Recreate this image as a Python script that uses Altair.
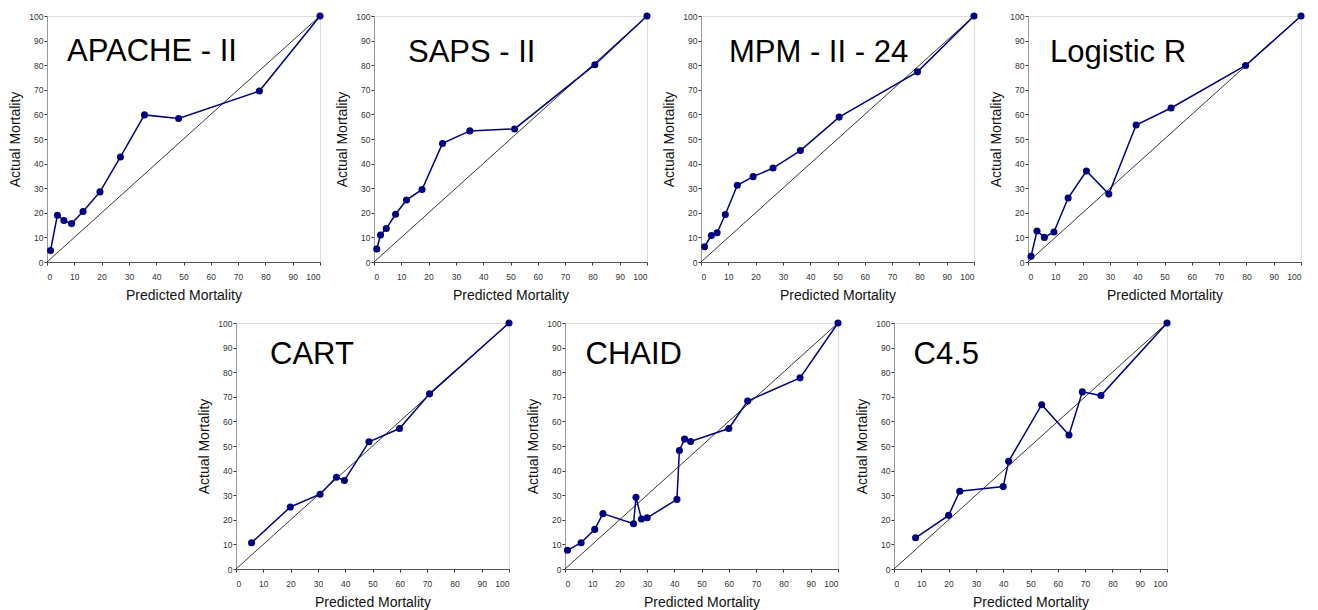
import altair as alt
import pandas as pd

models = ["APACHE - II", "SAPS - II", "MPM - II - 24", "Logistic R", "CART", "CHAID", "C4.5"]

apache_pred = [1.3, 3.8, 6.2, 9.0, 13.2, 19.4, 26.9, 35.7, 48.2, 77.8, 100]
apache_act = [4.7, 19.0, 16.9, 15.6, 20.5, 28.5, 42.7, 59.8, 58.3, 69.5, 100]

saps_pred = [1.0, 2.4, 4.5, 7.9, 11.9, 17.6, 25.1, 35.1, 51.5, 80.9, 100]
saps_act = [5.3, 11.0, 13.6, 19.4, 25.2, 29.5, 48.2, 53.3, 54.1, 80.2, 100]

mpm_pred = [1.3, 3.8, 5.9, 8.9, 13.3, 19.1, 26.4, 36.4, 50.6, 79.3, 100]
mpm_act = [6.2, 10.8, 11.9, 19.3, 31.2, 34.7, 38.2, 45.3, 58.9, 77.3, 100]

logit_pred = [1.1, 3.3, 6.0, 9.5, 14.7, 21.4, 29.6, 39.6, 52.4, 79.7, 100]
logit_act = [2.3, 12.6, 10.0, 12.2, 26.0, 37.0, 27.6, 55.7, 62.6, 79.9, 100]

cart_pred = [5.7, 19.9, 30.8, 36.8, 39.7, 48.7, 59.9, 70.9, 100]
cart_act = [10.7, 25.2, 30.4, 37.3, 36.0, 51.7, 57.1, 71.2, 100]

chaid_pred = [0.9, 5.9, 10.9, 13.9, 25.1, 26.0, 28.0, 30.1, 41.0, 41.9, 43.8, 46.0, 60.0, 66.9, 86.1, 100]
chaid_act = [7.6, 10.7, 16.1, 22.5, 18.4, 29.2, 20.3, 20.8, 28.3, 48.2, 52.8, 51.8, 57.1, 68.3, 77.7, 100]

c45_pred = [7.9, 20.0, 24.1, 40.0, 42.0, 54.1, 64.1, 69.0, 75.8, 100]
c45_act = [12.7, 21.8, 31.6, 33.5, 43.8, 66.8, 54.5, 72.0, 70.5, 100]

diag_vals = [0, 100]
tick_vals = list(range(0, 101, 10))

series = [
    (apache_pred, apache_act),
    (saps_pred, saps_act),
    (mpm_pred, mpm_act),
    (logit_pred, logit_act),
    (cart_pred, cart_act),
    (chaid_pred, chaid_act),
    (c45_pred, c45_act),
]

# label placement in pixels inside each plot (layout only)
label_pos = [(20, 45), (34, 45.5), (28, 46), (22, 46), (34, 40.5), (20.5, 40.5), (19.5, 40.5)]

W, H = 273, 246
NAVY = "#000080"
FONT = "Liberation Sans"

x_axis = alt.Axis(values=tick_vals, grid=False, title="Predicted Mortality",
                  labelFontSize=8.5, labelColor="#333333", titleFontSize=14,
                  titleFontWeight="normal", titleColor="#111111", tickSize=3,
                  tickColor="#333333", domainColor="#555555", labelPadding=7,
                  titlePadding=8, labelFont=FONT, titleFont=FONT)
y_axis = alt.Axis(values=tick_vals, grid=False, title="Actual Mortality",
                  labelFontSize=8.5, labelColor="#333333", titleFontSize=14,
                  titleFontWeight="normal", titleColor="#111111", tickSize=3,
                  tickColor="#333333", domainColor="#999999", labelPadding=1,
                  titlePadding=6, labelFont=FONT, titleFont=FONT)


def panel(i):
    pred, act = series[i]
    df = pd.DataFrame({"pred": pred, "act": act, "order": list(range(len(pred)))})
    diag = pd.DataFrame({"pred": diag_vals, "act": diag_vals})
    xs = alt.Scale(domain=[0, 100], nice=False)
    ys = alt.Scale(domain=[0, 100], nice=False)
    d = alt.Chart(diag).mark_line(color="black", strokeWidth=0.8).encode(
        x=alt.X("pred:Q", scale=xs, axis=x_axis),
        y=alt.Y("act:Q", scale=ys, axis=y_axis),
    )
    ln = alt.Chart(df).mark_line(color=NAVY, strokeWidth=1.5).encode(
        x=alt.X("pred:Q", scale=xs, axis=x_axis),
        y=alt.Y("act:Q", scale=ys, axis=y_axis),
        order="order:Q",
    )
    pt = alt.Chart(df).mark_circle(color=NAVY, size=50, opacity=1).encode(
        x=alt.X("pred:Q", scale=xs, axis=x_axis),
        y=alt.Y("act:Q", scale=ys, axis=y_axis),
    )
    lx, ly = label_pos[i]
    tx = alt.Chart(pd.DataFrame({"name": [models[i]]})).mark_text(
        align="left", baseline="alphabetic", fontSize=31, font=FONT,
        color="black"
    ).encode(text="name:N", x=alt.value(lx), y=alt.value(ly))
    return alt.layer(d, ln, pt, tx).properties(width=W, height=H)


spacer = alt.Chart(pd.DataFrame({"a": [0]})).mark_point(opacity=0).encode(
    x=alt.X("a:Q", axis=None), y=alt.Y("a:Q", axis=None)
).properties(width=137, height=1, view=alt.ViewBackground(stroke="transparent"))

top = alt.hconcat(panel(0), panel(1), panel(2), panel(3), spacing=10)
bottom = alt.hconcat(spacer, panel(4), panel(5), panel(6), spacing=12)

chart = alt.vconcat(top, bottom, spacing=15).properties(
    padding={"top": 3, "left": 0, "right": 0, "bottom": 0}
).configure_view(
    stroke="#aaaaaa", strokeWidth=1
).configure(background="white")

chart.save("out.html", embed_options={"renderer": "svg", "actions": False})
